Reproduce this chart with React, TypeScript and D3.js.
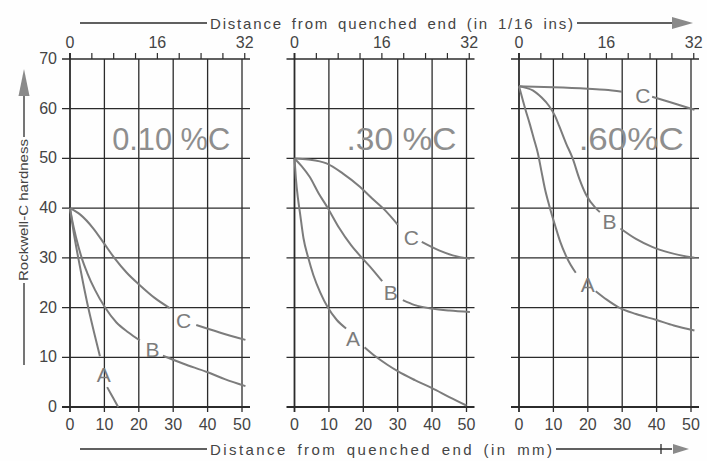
import React from 'react';
import * as d3 from 'd3';

type P = [number, number] | null;

// axis ticks
const mmTicks = [0, 10, 20, 30, 40, 50];
const hardnessTicks = [0, 10, 20, 30, 40, 50, 60, 70];
const sixteenthTicks = [0, 4, 8, 12, 16, 20, 24, 28, 32];
const sixteenthLabels = [0, 16, 32];

const steels = ['0.10 %C', '.30 %C', '.60%C'];
const curveNames = ['A', 'B', 'C'];

// 0.10 % C  (null = gap for the letter)
const lowA: P[] = [[0, 40], [1.1, 35], [2.4, 30], [3.8, 25], [5.3, 20], [7, 15], [8.7, 10.2], null, [10.8, 4], [12.4, 2], [14, 0]];
const lowB: P[] = [[0, 40], [0.8, 37], [1.8, 34], [3.4, 30], [5, 27], [7.3, 23.5], [10.2, 20], [13.5, 17], [17, 15], [20.3, 13.4], null, [27, 10.3], [33, 8.7], [40, 7], [45, 5.6], [51, 4.2]];
const lowC: P[] = [[0, 40], [3, 38.7], [6.8, 35.9], [10, 32.8], [13, 29.9], [16.5, 27], [20.3, 24.5], [24.5, 22], [29, 19.9], null, [36.7, 16.5], [43.5, 15], [51, 13.5]];

// .30 % C
const midA: P[] = [[0, 50], [0.4, 46], [1, 42], [1.6, 39], [2.6, 34], [4, 30], [5.5, 26.5], [7.5, 23], [9.7, 20], [12.3, 17.5], [15, 15.8], null, [20.4, 12], [23.5, 10.2], [27, 8.5], [30, 7.2], [35, 5.4], [40, 3.8], [45, 2], [50, 0.3]];
const midB: P[] = [[0, 50], [2, 48.5], [4.4, 46.3], [7, 43], [9.7, 40], [13, 36], [16.5, 32.5], [19.6, 30], [22.5, 27.8], [25.5, 25.3], null, [31.5, 21.5], [35, 20.5], [40, 19.8], [45, 19.4], [51, 19.1]];
const midC: P[] = [[0, 50], [4, 49.8], [9.3, 49], [14, 47], [19, 44.3], [22.5, 42], [26, 39.8], [30, 36.7], null, [37, 33.2], [42, 31.5], [46, 30.5], [51, 29.8]];

// .60 % C
const highA: P[] = [[0, 64.5], [0.8, 62.5], [1.8, 60], [3.1, 57], [4.3, 54], [5.5, 51], [6.5, 47.5], [7.5, 44], [8.8, 40.5], [10.5, 36.5], [12, 33.2], [13.6, 30.5], [15, 28.6], [16.5, 27], null, [22.3, 23.3], [25.5, 21.6], [29.1, 20], [34, 18.7], [40, 17.5], [45, 16.4], [51, 15.4]];
const highB: P[] = [[0, 64.5], [2, 64.2], [4, 63.7], [6.5, 62.3], [8.8, 60.5], [10.5, 58.5], [11.7, 56.5], [13.7, 53], [15.6, 50], [17.5, 46], [19.5, 42.7], [22.3, 40], [23.5, 39.2], null, [29.5, 35.9], [34, 33.8], [38.7, 32.2], [44, 31], [51, 30]];
const highC: P[] = [[0, 64.5], [10, 64.3], [20, 64], [25, 63.8], [30, 63.4], null, [38.7, 62.4], [44, 61.3], [51, 59.8]];

// where the A/B/C letters sit, in data units
const lowLetters = [[9.8, 6.4], [24, 11.4], [33, 17.2]];
const midLetters = [[17, 13.6], [28, 23], [34, 34]];
const highLetters = [[20, 24.5], [26.3, 37.2], [36, 62.5]];

const panels = [
  { curves: [lowA, lowB, lowC], letters: lowLetters },
  { curves: [midA, midB, midC], letters: midLetters },
  { curves: [highA, highB, highC], letters: highLetters }
];

const W = 707;
const H = 461;
const firstX = 70;
const panelStep = 224.5;
const panelW = 172;
const titleCenter = [29.4, 31.1, 32.6];
const titleWidth = [118, 110, 105];

const ink = '#2b2b2b';
const pencil = '#7c7c7c';
const font = 'Liberation Sans, Arial, sans-serif';

const yScale = d3.scaleLinear().domain([0, 70]).range([407, 59]);

const Panel = ({ i }: { i: number }) => {
  const x0 = firstX + i * panelStep;
  const xScale = d3.scaleLinear().domain([0, 50]).range([x0, x0 + panelW]);
  const inch = (s: number) => xScale((s * 25.4) / 16);
  const lineGen = d3
    .line<P>()
    .defined(d => d !== null)
    .x(d => xScale((d as [number, number])[0]))
    .y(d => yScale((d as [number, number])[1]))
    .curve(d3.curveMonotoneX);
  const { curves, letters } = panels[i];

  return (
    <g>
      {/* horizontal grid */}
      {hardnessTicks.map(t => (
        <line
          key={'h' + t}
          x1={x0 - 8}
          x2={x0 + panelW + 8}
          y1={yScale(t)}
          y2={yScale(t)}
          stroke={ink}
          strokeWidth={t === 0 ? 1.8 : 1.3}
        />
      ))}
      {/* vertical grid */}
      {mmTicks.map(t => (
        <line
          key={'v' + t}
          x1={xScale(t)}
          x2={xScale(t)}
          y1={yScale(70) - (t === 0 ? 6 : 0)}
          y2={yScale(0) + 5}
          stroke={ink}
          strokeWidth={t === 0 ? 1.8 : 1.3}
        />
      ))}
      {/* 1/16 in ticks on top */}
      {sixteenthTicks.map(s => (
        <line
          key={'s' + s}
          x1={inch(s)}
          x2={inch(s)}
          y1={yScale(70) - 6}
          y2={yScale(70)}
          stroke={ink}
          strokeWidth={1.2}
        />
      ))}
      {sixteenthLabels.map(s => (
        <text
          key={'sl' + s}
          x={inch(s)}
          y={48}
          textAnchor="middle"
          fontSize={16}
          fontFamily={font}
          fill="#444"
        >
          {s}
        </text>
      ))}
      {mmTicks.map(t => (
        <text
          key={'ml' + t}
          x={xScale(t)}
          y={430}
          textAnchor="middle"
          fontSize={16}
          fontFamily={font}
          fill="#444"
        >
          {t}
        </text>
      ))}
      <text
        x={xScale(titleCenter[i])}
        y={yScale(51.7)}
        textAnchor="middle"
        fontSize={32}
        fontFamily={font}
        fill="#8e8e8e"
        textLength={titleWidth[i]}
        lengthAdjust="spacingAndGlyphs"
      >
        {steels[i]}
      </text>
      {curves.map((c, k) => (
        <path key={'c' + k} d={lineGen(c) || ''} fill="none" stroke={pencil} strokeWidth={2} />
      ))}
      {letters.map((p, k) => (
        <text
          key={'l' + k}
          x={xScale(p[0])}
          y={yScale(p[1]) + 7}
          textAnchor="middle"
          fontSize={21}
          fontFamily={font}
          fill={pencil}
        >
          {curveNames[k]}
        </text>
      ))}
    </g>
  );
};

const App = () => {
  return (
    <svg
      width={W}
      height={H}
      style={{ position: 'absolute', left: 0, top: 0, background: '#fefefe' }}
    >
      {/* left axis labels */}
      {hardnessTicks.map(t => (
        <text
          key={'y' + t}
          x={57}
          y={yScale(t) + 5}
          textAnchor="end"
          fontSize={16}
          fontFamily={font}
          fill="#444"
        >
          {t}
        </text>
      ))}
      {[0, 1, 2].map(i => (
        <Panel key={i} i={i} />
      ))}

      {/* y title with arrow */}
      <line x1={24} x2={24} y1={365} y2={283} stroke={ink} strokeWidth={1.3} />
      <line x1={24} x2={24} y1={137} y2={92} stroke={ink} strokeWidth={1.3} />
      <path d="M24,69 L18.5,96 L29.5,96 Z" fill="#8a8a8a" />
      <text
        transform="translate(28,281) rotate(-90)"
        fontSize={13}
        fontFamily={font}
        fill="#444"
        textLength={142}
        lengthAdjust="spacingAndGlyphs"
      >
        Rockwell-C hardness
      </text>

      {/* top title */}
      <line x1={80} x2={207} y1={23} y2={23} stroke={ink} strokeWidth={1.3} />
      <text
        x={210}
        y={29}
        fontSize={15}
        fontFamily={font}
        fill="#444"
        wordSpacing={3}
        textLength={363}
        lengthAdjust="spacing"
      >
        Distance from quenched end (in 1/16 ins)
      </text>
      <line x1={577} x2={676} y1={23} y2={23} stroke={ink} strokeWidth={1.3} />
      <path d="M693,23 L672,17 L672,29 Z" fill="#8a8a8a" />

      {/* bottom title */}
      <line x1={80} x2={207} y1={449} y2={449} stroke={ink} strokeWidth={1.3} />
      <text
        x={210}
        y={455}
        fontSize={15}
        fontFamily={font}
        fill="#444"
        wordSpacing={3}
        textLength={342}
        lengthAdjust="spacing"
      >
        Distance from quenched end (in mm)
      </text>
      <line x1={556} x2={672} y1={449} y2={449} stroke={ink} strokeWidth={1.3} />
      <line x1={661} x2={661} y1={444} y2={454} stroke={ink} strokeWidth={1.3} />
      <path d="M689,449 L673,444 L673,454 Z" fill="#8a8a8a" />
    </svg>
  );
};

export default App;
